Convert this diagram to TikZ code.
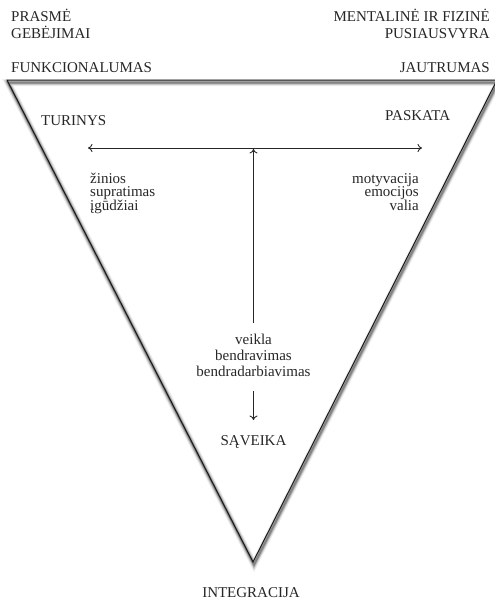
\documentclass[tikz,border=0pt]{standalone}
\usepackage{fontspec}
\setmainfont{Liberation Serif}
\usetikzlibrary{arrows.meta}
\begin{document}
\begin{tikzpicture}[x=1pt,y=-1pt,
  lbl/.style={inner sep=0pt, font=\fontsize{15}{16}\selectfont, text=black!85},
  edgeline/.style={draw=black!90, line width=1pt, line join=miter},
  shad/.style={draw=black, line join=miter, transform canvas={xshift=1pt,yshift=-2.5pt}},
  arr/.style={draw=black!85, line width=0.9pt, -{To[length=4.5pt,width=8pt]}},
  darr/.style={draw=black!85, line width=0.9pt, {To[length=4.5pt,width=8pt]}-{To[length=4.5pt,width=8pt]}}
]
\useasboundingbox (0,0) rectangle (495,603);
\coordinate (tl) at (7,80);
\coordinate (tr) at (497,80);
\coordinate (bt) at (253,562);
% shadow of the triangle outline
\draw[shad, line width=7pt, opacity=0.07] (tl) -- (tr) -- (bt) -- cycle;
\draw[shad, line width=5pt, opacity=0.11] (tl) -- (tr) -- (bt) -- cycle;
\draw[shad, line width=3.5pt, opacity=0.17] (tl) -- (tr) -- (bt) -- cycle;
\draw[shad, line width=2pt, opacity=0.25] (tl) -- (tr) -- (bt) -- cycle;
% triangle
\draw[edgeline] (tl) -- (tr) -- (bt) -- cycle;

% top labels
\node[lbl, anchor=base west] (prasme) at (11,21.5) {PRASMĖ};
\node[lbl, anchor=base west] (gebejimai) at (11,38.5) {GEBĖJIMAI};
\node[lbl, anchor=base west] (funkc) at (11,72.5) {FUNKCIONALUMAS};
\node[lbl, anchor=base east] (mental) at (490,21.5) {MENTALINĖ IR FIZINĖ};
\node[lbl, anchor=base east] (pusiaus) at (490,38.5) {PUSIAUSVYRA};
\node[lbl, anchor=base east] (jautr) at (490,72.5) {JAUTRUMAS};

% inner labels
\node[lbl, anchor=base west] (turinys) at (41,125) {TURINYS};
\node[lbl, anchor=base west] (paskata) at (385,120) {PASKATA};

\node[lbl, anchor=base west] (zinios) at (90,183) {žinios};
\node[lbl, anchor=base west] (suprat) at (90,196.5) {supratimas};
\node[lbl, anchor=base west] (igudz) at (90,210) {įgūdžiai};

\node[lbl, anchor=base east] (motyv) at (419,183) {motyvacija};
\node[lbl, anchor=base east] (emoc) at (419,196.5) {emocijos};
\node[lbl, anchor=base east] (valia) at (419,210) {valia};

\node[lbl, anchor=base] (veikla) at (253.5,344) {veikla};
\node[lbl, anchor=base] (bendrav) at (253.5,360) {bendravimas};
\node[lbl, anchor=base] (bendrad) at (253.5,376) {bendradarbiavimas};

\node[lbl, anchor=base] (saveika) at (253.5,445) {SĄVEIKA};
\node[lbl, anchor=base] (integr) at (251,597) {INTEGRACIJA};

% arrows
\coordinate (hl) at (88,148);
\coordinate (hr) at (422,148);
\coordinate (vb) at (253.5,323);
\coordinate (vt) at (253.5,149);
\coordinate (da) at (253.5,391);
\coordinate (db) at (253.5,420);
\draw[darr] (hl) -- (hr);
\draw[arr] (vb) -- (vt);
\draw[arr] (da) -- (db);
\end{tikzpicture}
\end{document}
